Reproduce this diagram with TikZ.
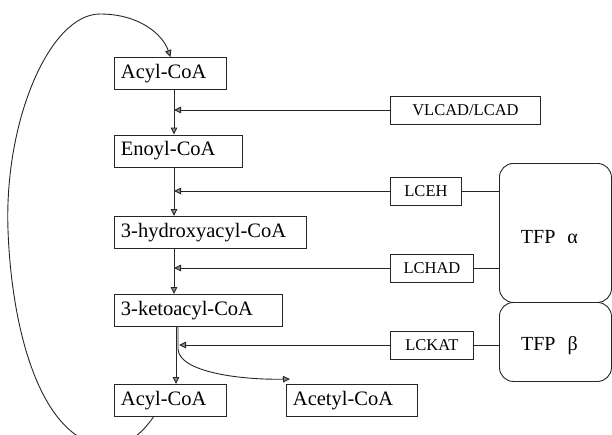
\documentclass[tikz,border=0pt]{standalone}
\usepackage{fontspec}
\setmainfont{Liberation Serif}
\usetikzlibrary{arrows.meta}
\tikzset{
  ink/.style={draw=black!85, line width=0.9pt},
  metab/.style={ink, anchor=west, minimum height=32pt, inner xsep=6.5pt, inner ysep=0pt,
    align=left, font=\fontsize{20.5}{24}\selectfont},
  enzyme/.style={ink, anchor=west, minimum height=28pt, inner sep=0pt,
    font=\fontsize{16.5}{20}\selectfont},
  complexbox/.style={ink, anchor=north west, rounded corners=14pt, inner sep=0pt},
  subunit/.style={label={[xshift=-6pt, yshift=-4pt, font=\fontsize{20}{24}\selectfont]center:{TFP\hspace{0.6em}#1}}},
  flow/.style={ink, -{Triangle[length=7pt, width=6.5pt, fill=black!45]}},
  link/.style={ink},
}
\begin{document}
\begin{tikzpicture}[x=1pt, y=-1pt]
  \useasboundingbox (0,0) rectangle (612,434);
  \clip (0,0) rectangle (612,434);

  % intermediates of the beta-oxidation spiral
  \node[metab, text width=99pt]  (acylA)   at (114,73.5)  {Acyl-CoA};
  \node[metab, text width=115pt] (enoyl)   at (114,151)   {Enoyl-CoA};
  \node[metab, text width=179pt] (hydroxy) at (114,232.5) {3-hydroxyacyl-CoA};
  \node[metab, text width=155pt] (keto)    at (114,310.5) {3-ketoacyl-CoA};
  \node[metab, text width=99pt]  (acylB)   at (114,400.5) {Acyl-CoA};
  \node[metab, text width=118pt] (acetyl)  at (286,400.5) {Acetyl-CoA};

  % enzymes
  \node[enzyme, minimum width=150pt] (vlcad) at (390,110) {VLCAD/LCAD};
  \node[enzyme, minimum width=71pt]  (lceh)  at (390,191) {LCEH};
  \node[enzyme, minimum width=83pt]  (lchad) at (390,268) {LCHAD};
  \node[enzyme, minimum width=83pt]  (lckat) at (390,345) {LCKAT};

  % trifunctional protein subunits
  \node[complexbox, subunit=α, minimum width=112pt, minimum height=139pt] (tfpa) at (499,163) {};
  \node[complexbox, subunit=β, minimum width=112pt, minimum height=79pt]  (tfpb) at (499,302) {};

  \coordinate (spine) at (174,0);

  % main pathway
  \draw[flow] (acylA.south -| spine)   -- (enoyl.north -| spine);
  \draw[flow] (enoyl.south -| spine)   -- (hydroxy.north -| spine);
  \draw[flow] (hydroxy.south -| spine) -- (keto.north -| spine);
  \draw[flow] ([xshift=2pt]keto.south -| spine) -- ([xshift=2pt]acylB.north -| spine);
  \draw[flow] ([xshift=4pt]keto.south -| spine) -- ++(0,22)
     .. controls (179,372) and (240,380) .. ([xshift=4pt,yshift=5pt]acetyl.north west);

  % enzyme inputs
  \draw[flow] (vlcad.west) -- (vlcad.west -| spine);
  \draw[flow] (lceh.west)  -- (lceh.west -| spine);
  \draw[flow] (lchad.west) -- (lchad.west -| spine);
  \draw[flow] (lckat.west) -- ([xshift=5pt]lckat.west -| spine);

  \draw[link] (lceh.east)  -- (lceh.east -| tfpa.west);
  \draw[link] (lchad.east) -- (lchad.east -| tfpa.west);
  \draw[link] (lckat.east) -- (lckat.east -| tfpb.west);

  % recycling of the shortened acyl-CoA
  \draw[flow] ([xshift=-17pt]acylB.south)
     .. controls (143,432) and (128,446) .. (110,446)
     .. controls (45,446) and (12,340) .. (8,230)
     .. controls (4,120) and (50,14) .. (100,14)
     .. controls (140,14) and (163,35) .. (acylA.north);
\end{tikzpicture}
\end{document}
